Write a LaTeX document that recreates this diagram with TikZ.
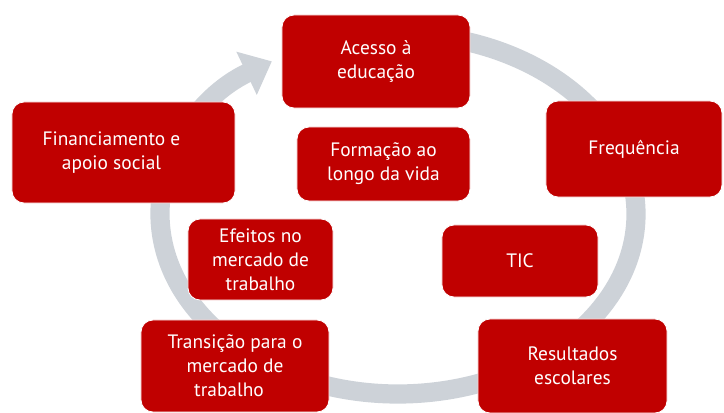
\documentclass[tikz,border=0pt]{standalone}
\usepackage{fontspec}
\setmainfont{PT Sans}
\usetikzlibrary{arrows.meta,calc}

\definecolor{boxred}{RGB}{192,0,0}
\definecolor{ringgray}{RGB}{205,210,216}

\begin{document}
\begin{tikzpicture}[>=Stealth, x=0.025cm, y=0.025cm,
  stage/.style={rectangle, rounded corners=0.3cm, fill=boxred, draw=white,
    line width=0.6pt, text=white, align=center, inner sep=2pt,
    font=\fontsize{13.8}{17}\selectfont},
  cyclering/.style={line width=0.48cm, draw=ringgray}]

% --- Frame (724 x 413 units) ---
\clip (0,0) rectangle (724,413);

% ============================================================
% Grey cycle: ellipse around (398,199), ends in an arrow tip
% ============================================================
\draw[cyclering, -{Triangle[width=1.15cm, length=0.7cm]}]
  ($(398,199)+(95:238 and 180)$) coordinate (ringstart)
  arc[start angle=95, end angle=-238, x radius=238, y radius=180];

% ============================================================
% Outer stages
% ============================================================
\node[stage, minimum width=4.7cm, minimum height=2.325cm]
  (acesso) at (376,351.5) {Acesso à\\educação};
\node[stage, minimum width=4.4cm, minimum height=2.4cm]
  (frequencia) at (634,264) {Frequência};
\node[stage, minimum width=4.725cm, minimum height=2.35cm]
  (resultados) at (572.5,47) {Resultados\\escolares};
\node[stage, minimum width=4.7cm, minimum height=2.3cm]
  (transicao) at (235,47) {Transição para o\\mercado de\\trabalho\hspace*{0.3cm}};
\node[stage, minimum width=5.575cm, minimum height=2.525cm]
  (financiamento) at (123.5,260.5) {Financiamento e\hspace*{0.6cm}\\apoio social\hspace*{0.6cm}};

% ============================================================
% Inner stages
% ============================================================
\node[stage, minimum width=4.325cm, minimum height=1.85cm]
  (formacao) at (383.5,249) {Formação ao\\longo da vida};
\node[stage, minimum width=3.625cm, minimum height=2.025cm]
  (efeitos) at (260.5,153.5) {Efeitos no\\mercado de\\trabalho};
\node[stage, minimum width=3.9cm, minimum height=1.8cm]
  (tic) at (520,152) {TIC};

\end{tikzpicture}
\end{document}
